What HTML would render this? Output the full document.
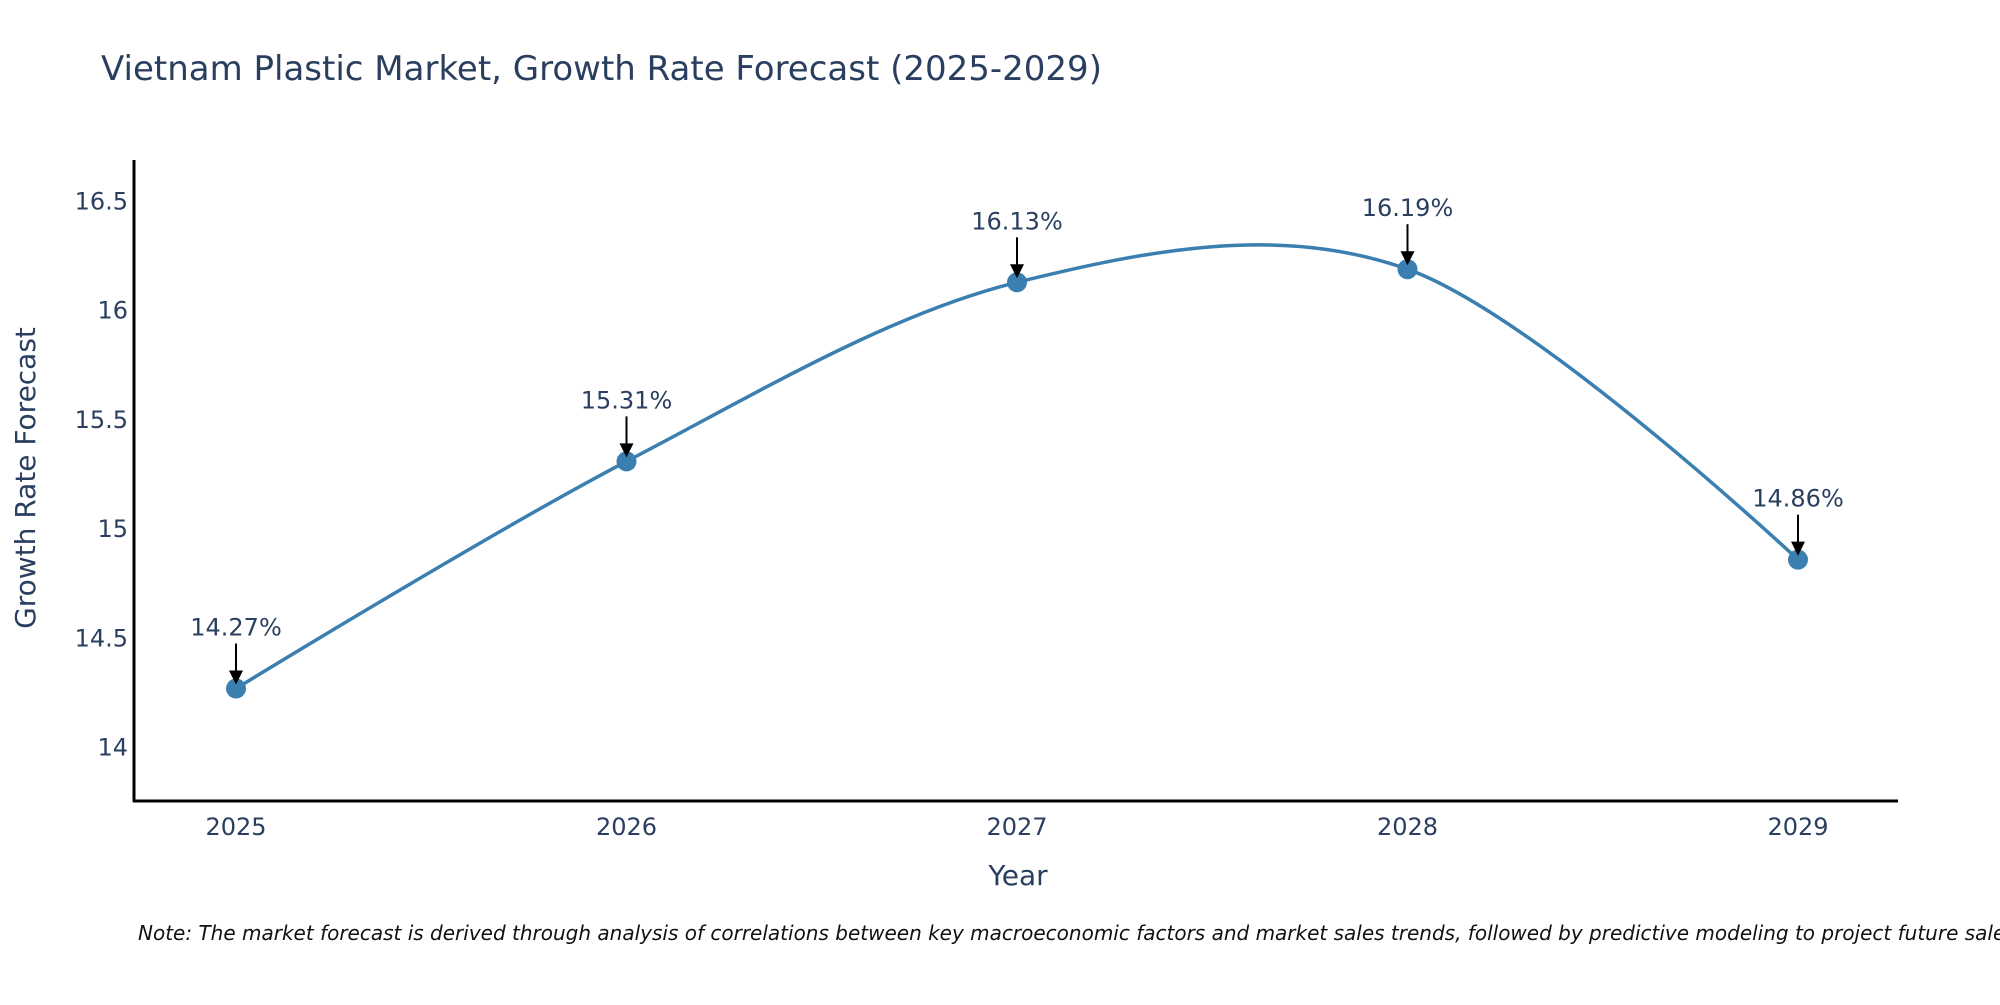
<!DOCTYPE html>
<html><head><meta charset="utf-8"><style>
body{margin:0;background:#fff;overflow:hidden;}
svg text{font-family:"DejaVu Sans","Liberation Sans",sans-serif;fill:#2a3f5f;}
</style></head><body>
<svg id="chart" width="2000" height="1000" xmlns="http://www.w3.org/2000/svg">
<text x="101" y="80" font-size="34">Vietnam Plastic Market, Growth Rate Forecast (2025-2029)</text>
<g id="yticks"></g>
<g id="xticks"></g>
<line x1="134" y1="160" x2="134" y2="802" stroke="#000" stroke-width="3"/>
<line x1="133" y1="801" x2="1898" y2="801" stroke="#000" stroke-width="3"/>
<text transform="translate(35,478) rotate(-90)" text-anchor="middle" font-size="28">Growth Rate Forecast</text>
<text x="1018" y="885" text-anchor="middle" font-size="28">Year</text>
<path id="line" fill="none" stroke="#3a7fb0" stroke-width="3.5"/>
<g id="points"></g>
<text x="138" y="940" font-size="20" font-style="italic" style="fill:#111">Note: The market forecast is derived through analysis of correlations between key macroeconomic factors and market sales trends, followed by predictive modeling to project future sales.</text>
</svg>
<script>
const years = [2025, 2026, 2027, 2028, 2029];
const values = [14.27, 15.31, 16.13, 16.19, 14.86];
const yTicks = [14, 14.5, 15, 15.5, 16, 16.5];
const NS = "http://www.w3.org/2000/svg";
const xScale = y => 236 + (y - 2025) * 390.5;
const yScale = v => 747.5 - (v - 14) * 218.4;
function mk(tag, attrs, parent, txt){const e=document.createElementNS(NS,tag);for(const k in attrs)e.setAttribute(k,attrs[k]);if(txt!==undefined)e.textContent=txt;parent.appendChild(e);return e;}
const yg=document.getElementById('yticks');
yTicks.forEach(t=>{const e=mk('text',{x:128,y:yScale(t)+8,'text-anchor':'end','font-size':24},yg,String(t));

});
const xg=document.getElementById('xticks');
years.forEach(t=>{const e=mk('text',{x:xScale(t),y:835,'text-anchor':'middle','font-size':24},xg,String(t));

});
const pts=years.map((y,i)=>[xScale(y),yScale(values[i])]);
let d='M'+pts[0][0]+','+pts[0][1];
const s=0.33;
for(let i=0;i<pts.length-1;i++){
  const p0=pts[Math.max(0,i-1)],p1=pts[i],p2=pts[i+1],p3=pts[Math.min(pts.length-1,i+2)];
  const c1=[p1[0]+(p2[0]-p0[0])*s/2*(i==0?0:1), p1[1]+(p2[1]-p0[1])*s/2*(i==0?0:1)];
  const c2=[p2[0]-(p3[0]-p1[0])*s/2*(i==pts.length-2?0:1), p2[1]-(p3[1]-p1[1])*s/2*(i==pts.length-2?0:1)];
  d+=' C'+c1+' '+c2+' '+p2;
}
document.getElementById('line').setAttribute('d',d);
const pg=document.getElementById('points');
pts.forEach((p,i)=>{
  const c=mk('circle',{cx:p[0],cy:p[1],r:10,fill:'#3a7fb0'},pg);
  
  
  const a=mk('line',{x1:p[0],y1:p[1]-45,x2:p[0],y2:p[1]-16,stroke:'#000','stroke-width':2},pg);
  
  
  const h=mk('polygon',{points:`${p[0]-7},${p[1]-18} ${p[0]+7},${p[1]-18} ${p[0]},${p[1]-4}`,fill:'#000'},pg);
  
  
  const t=mk('text',{x:p[0],y:p[1]-53,'text-anchor':'middle','font-size':24},pg,values[i].toFixed(2)+'%');
  
  
});
</script>
</body></html>
